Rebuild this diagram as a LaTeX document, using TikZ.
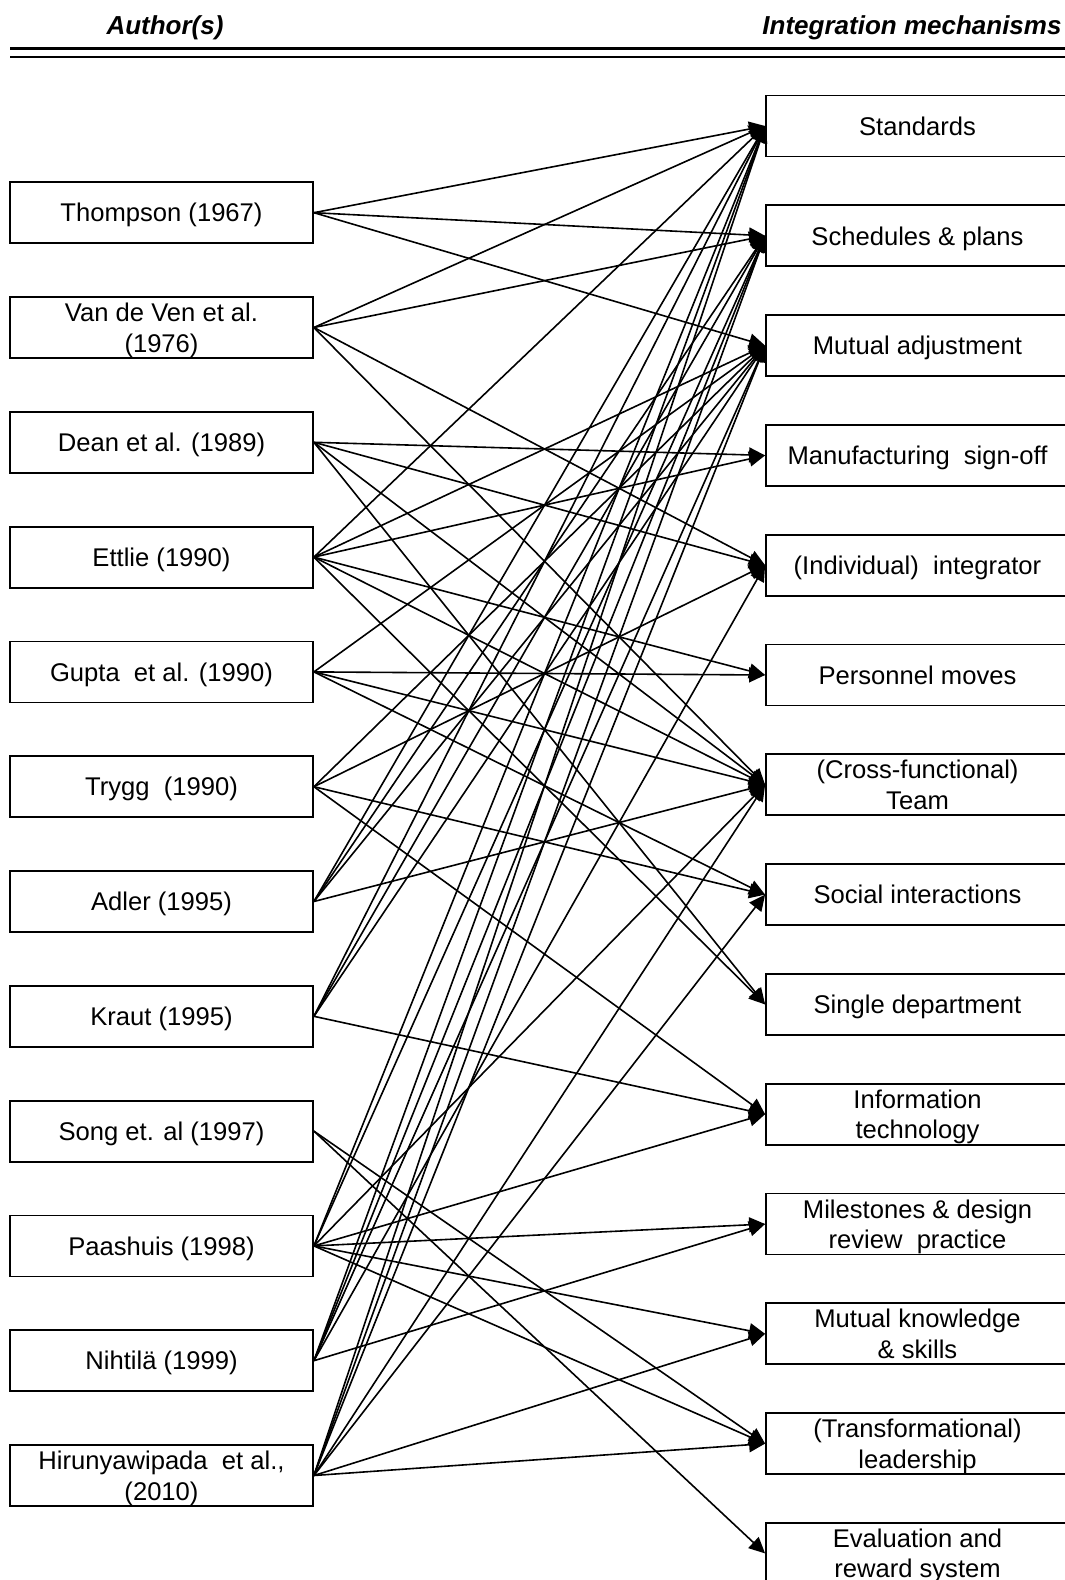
\documentclass[tikz,border=0pt]{standalone}
\usepackage{fontspec}
\setmainfont{Liberation Sans}
\usetikzlibrary{arrows.meta}
\begin{document}
\begin{tikzpicture}[x=1pt,y=-1pt,
  box/.style={draw=black, line width=1.8pt, minimum width=303pt, minimum height=61pt,
    inner sep=0pt, align=center, text depth=0pt, font=\fontsize{25.6}{30.5}\selectfont},
  link/.style={line width=1.6pt, -{Triangle[length=16pt,width=15pt]}},
  head/.style={font=\fontsize{26}{30}\selectfont\bfseries\itshape},
  rule/.style={line width=#1}
]
\clip (0,0) rectangle (1065,1580);
\fill[white] (0,0) rectangle (1065,1580);

% column headings and double rule
\node[head] (hA) at (165,28) {Author(s)};
\node[head] (hM) at (912,28) {Integration mechanisms};
\draw[rule=2.5pt] (10,48.5) -- (1070,48.5);
\draw[rule=2pt] (10,56.5) -- (1070,56.5);

% authors
\node[box] (thompson) at (161.5,212.7) {Thompson\ (1967)};
\node[box] (vandeven) at (161.5,327.5) {Van de Ven et al.\\(1976)};
\node[box] (dean)     at (161.5,442.3) {Dean et al. (1989)};
\node[box] (ettlie)   at (161.5,557.1) {Ettlie (1990)};
\node[box] (gupta)    at (161.5,671.9) {Gupta\ \ et al. (1990)};
\node[box] (trygg)    at (161.5,786.7) {Trygg\ \ (1990)};
\node[box] (adler)    at (161.5,901.5) {Adler (1995)};
\node[box] (kraut)    at (161.5,1016.3) {Kraut (1995)};
\node[box] (song)     at (161.5,1131.1) {Song et. al (1997)};
\node[box] (paashuis) at (161.5,1245.9) {Paashuis (1998)};
\node[box] (nihtila)  at (161.5,1360.7) {Nihtilä (1999)};
\node[box] (hirun)    at (161.5,1475.5) {Hirunyawipada\ \ et al.,\\(2010)};

% integration mechanisms
\node[box] (std)   at (917.5,126.0)  {Standards};
\node[box] (sch)   at (917.5,235.8)  {Schedules \& plans};
\node[box] (madj)  at (917.5,345.6)  {Mutual adjustment};
\node[box] (msign) at (917.5,455.4)  {Manufacturing\ \ sign-off};
\node[box] (integ) at (917.5,565.2)  {(Individual)\ \ integrator};
\node[box] (pmove) at (917.5,675.0)  {Personnel moves};
\node[box] (team)  at (917.5,784.8)  {(Cross-functional)\\Team};
\node[box] (social) at (917.5,894.6) {Social interactions};
\node[box] (sdept) at (917.5,1004.4) {Single department};
\node[box] (itech) at (917.5,1114.2) {Information\\technology};
\node[box] (miles) at (917.5,1224.0) {Milestones \& design\\review\ \ practice};
\node[box] (mknow) at (917.5,1333.8) {Mutual knowledge\\\& skills};
\node[box] (lead)  at (917.5,1443.6) {(Transformational)\\leadership};
\node[box] (eval)  at (917.5,1553.4) {Evaluation and\\reward system};

% links from each author to the mechanisms it names
\foreach \a/\m in {
  thompson/std, thompson/sch, thompson/madj,
  vandeven/std, vandeven/sch, vandeven/integ, vandeven/team,
  dean/msign, dean/integ, dean/team, dean/sdept,
  ettlie/std, ettlie/madj, ettlie/msign, ettlie/pmove, ettlie/team, ettlie/sdept,
  gupta/madj, gupta/pmove, gupta/team, gupta/social,
  trygg/madj, trygg/integ, trygg/social, trygg/itech,
  adler/std, adler/sch, adler/madj, adler/team,
  kraut/std, kraut/sch, kraut/madj, kraut/itech,
  song/lead, song/eval,
  paashuis/std, paashuis/sch, paashuis/team, paashuis/itech, paashuis/miles, paashuis/mknow, paashuis/lead,
  nihtila/std, nihtila/sch, nihtila/madj, nihtila/integ, nihtila/miles,
  hirun/std, hirun/sch, hirun/madj, hirun/team, hirun/social, hirun/mknow, hirun/lead}
  \draw[link] (\a.east) -- (\m.west);
\end{tikzpicture}
\end{document}
